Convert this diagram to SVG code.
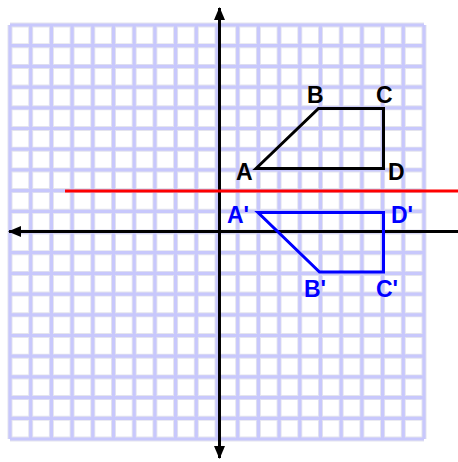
<svg xmlns="http://www.w3.org/2000/svg" width="458" height="462" viewBox="0 0 458 462">
<style>
.gridU{fill:none;stroke:#e4e4ee;stroke-width:5}
.grid{fill:none;stroke:#c8c8fc;stroke-width:3.2}
.axis{fill:none;stroke:#000;stroke-width:3}
.orig{fill:none;stroke:#000;stroke-width:3;stroke-linejoin:miter}
.img{fill:none;stroke:#0000ff;stroke-width:3;stroke-linejoin:miter}
.lbl{font-family:"Liberation Sans",Arial,sans-serif;font-weight:bold;font-size:23px}
</style>
<defs>
<marker id="arr" markerUnits="userSpaceOnUse" markerWidth="14" markerHeight="14" viewBox="0 0 14 14" refX="12" refY="7" orient="auto-start-reverse">
<path d="M0,1.5 L13,7 L0,12.5 Z" fill="#000"/>
</marker>
</defs>
<g id="grid">
<path class="gridU" d="M10,25V439M30.7,25V439M51.4,25V439M72.1,25V439M92.8,25V439M113.5,25V439M134.2,25V439M154.9,25V439M175.6,25V439M196.3,25V439M217,25V439M237.7,25V439M258.4,25V439M279.1,25V439M299.8,25V439M320.5,25V439M341.2,25V439M361.9,25V439M382.6,25V439M403.3,25V439M424,25V439M10,25H424M10,45.7H424M10,66.4H424M10,87.1H424M10,107.8H424M10,128.5H424M10,149.2H424M10,169.9H424M10,190.6H424M10,211.3H424M10,232H424M10,252.7H424M10,273.4H424M10,294.1H424M10,314.8H424M10,335.5H424M10,356.2H424M10,376.9H424M10,397.6H424M10,418.3H424M10,439H424"/>
<path class="grid" d="M10,25V439M30.7,25V439M51.4,25V439M72.1,25V439M92.8,25V439M113.5,25V439M134.2,25V439M154.9,25V439M175.6,25V439M196.3,25V439M217,25V439M237.7,25V439M258.4,25V439M279.1,25V439M299.8,25V439M320.5,25V439M341.2,25V439M361.9,25V439M382.6,25V439M403.3,25V439M424,25V439M10,25H424M10,45.7H424M10,66.4H424M10,87.1H424M10,107.8H424M10,128.5H424M10,149.2H424M10,169.9H424M10,190.6H424M10,211.3H424M10,232H424M10,252.7H424M10,273.4H424M10,294.1H424M10,314.8H424M10,335.5H424M10,356.2H424M10,376.9H424M10,397.6H424M10,418.3H424M10,439H424"/>
</g>
<g id="connectors">
<path id="y-axis" class="axis" d="M219.5,458V8" marker-start="url(#arr)" marker-end="url(#arr)"/>
<path id="x-axis" class="axis" d="M462,231.5H9" marker-end="url(#arr)"/>
<path id="mirror" d="M65,191H458" fill="none" stroke="#ff0000" stroke-width="3.2"/>
</g>
<g id="ABCD">
<path class="orig" d="M256,168.5L318.5,108.5H383.5V168.5Z"/>
<text class="lbl" x="307" y="103">B</text>
<text class="lbl" x="376" y="103">C</text>
<text class="lbl" x="236" y="180">A</text>
<text class="lbl" x="388" y="180">D</text>
</g>
<g id="ApBpCpDp" fill="#0000ff">
<path class="img" d="M258,212.5H383.5V272H319.5Z"/>
<text class="lbl" x="227" y="223">A'</text>
<text class="lbl" x="391" y="223">D'</text>
<text class="lbl" x="304" y="297">B'</text>
<text class="lbl" x="376" y="297">C'</text>
</g>
</svg>
